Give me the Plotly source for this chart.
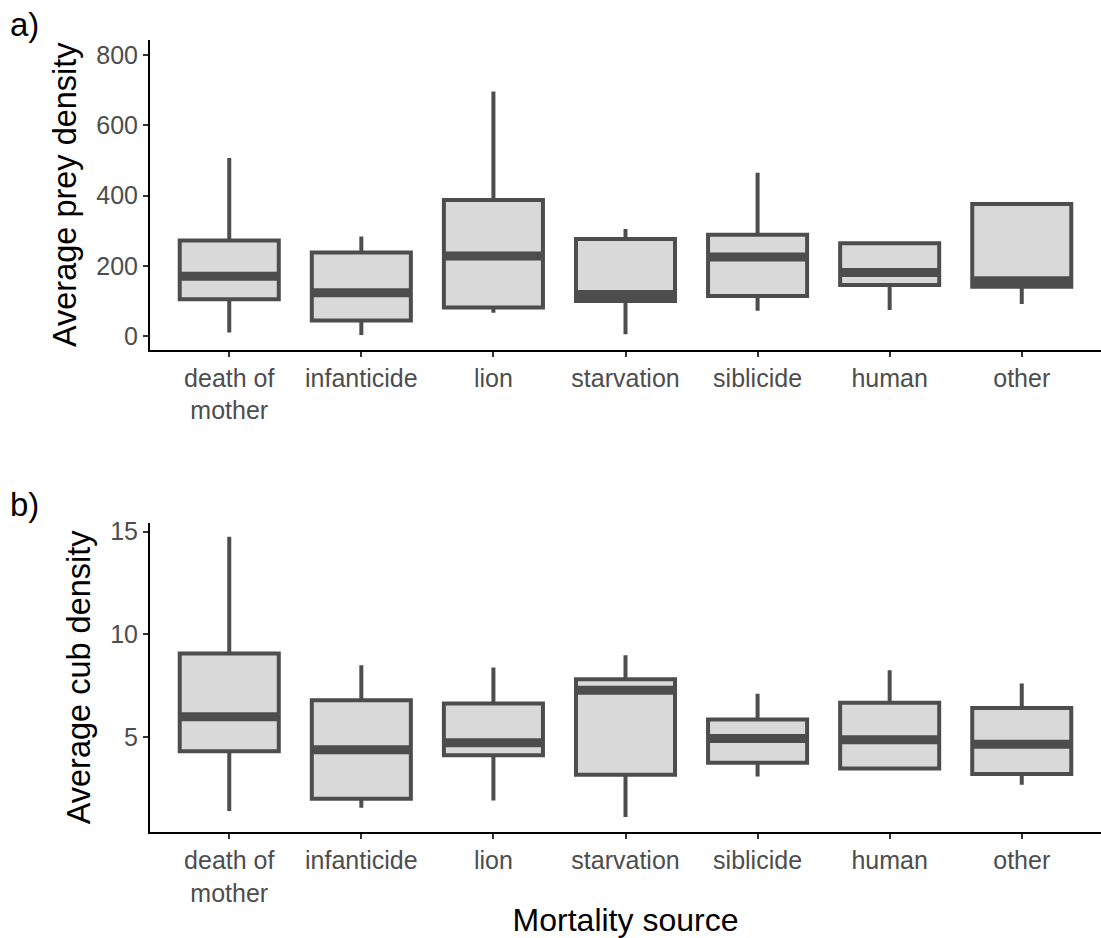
import plotly.graph_objects as go
from plotly.subplots import make_subplots

categories = ["death of mother", "infanticide", "lion", "starvation", "siblicide", "human", "other"]
tick_labels = ["death of<br>mother", "infanticide", "lion", "starvation", "siblicide", "human", "other"]

# Panel a: Average prey density
prey_low = [10, 3, 66, 5, 72, 74, 91]
prey_q1 = [105, 44, 81, 100, 114, 145, 140]
prey_med = [170, 123, 228, 118, 225, 181, 157]
prey_q3 = [272, 238, 387, 276, 288, 264, 376]
prey_high = [507, 283, 696, 305, 465, 264, 376]

# Panel b: Average cub density
cub_low = [1.39, 1.55, 1.91, 1.10, 3.08, 3.46, 2.67]
cub_q1 = [4.30, 1.99, 4.11, 3.16, 3.75, 3.46, 3.20]
cub_med = [5.98, 4.38, 4.72, 7.28, 4.92, 4.87, 4.64]
cub_q3 = [9.07, 6.79, 6.63, 7.81, 5.85, 6.67, 6.41]
cub_high = [14.76, 8.50, 8.38, 8.98, 7.11, 8.25, 7.60]

FONT = "Liberation Sans, Arial, sans-serif"
DARK = "#4D4D4D"
FILL = "#D9D9D9"

W, H = 1101, 938
ML, MR, MT, MB = 150, 0, 40, 106
plot_h = H - MT - MB

def pfrac(ypix):
    return (H - MB - ypix) / plot_h

fig = make_subplots(rows=2, cols=1, shared_xaxes=False)

panels = [
    (1, prey_low, prey_q1, prey_med, prey_q3, prey_high),
    (2, cub_low, cub_q1, cub_med, cub_q3, cub_high),
]
for row, lo, q1, med, q3, hi in panels:
    fig.add_trace(go.Box(
        x=categories, q1=q1, median=med, q3=q3, lowerfence=lo, upperfence=hi,
        fillcolor=FILL, line=dict(color=DARK, width=4), whiskerwidth=0,
        width=0.75, boxpoints=False, showlegend=False, hoverinfo="skip",
    ), row=row, col=1)
    # thick median bar (ggplot-style fattened median); line-ew half-length = 1.4 * size / 2
    fig.add_trace(go.Scatter(
        x=categories, y=med, mode="markers", showlegend=False, hoverinfo="skip",
        marker=dict(symbol="line-ew", size=70.5, color=DARK,
                    line=dict(width=9, color=DARK)),
    ), row=row, col=1)

axis_common = dict(
    showline=True, linecolor="black", linewidth=2, mirror=False,
    ticks="outside", ticklen=5, tickwidth=2, tickcolor="#333333",
    showgrid=False, zeroline=False,
    tickfont=dict(family=FONT, size=25, color=DARK),
)

fig.update_xaxes(**axis_common, type="category", categoryorder="array",
                 categoryarray=categories, tickvals=categories, ticktext=tick_labels,
                 range=[-0.6, 6.6])
fig.update_yaxes(**axis_common)

fig.update_layout(
    xaxis=dict(domain=[0, 1], anchor="y"),
    xaxis2=dict(domain=[0, 1], anchor="y2",
                title=dict(text="Mortality source", font=dict(family=FONT, size=32, color="black"),
                           standoff=18)),
    yaxis=dict(domain=[pfrac(349.5), 1.0], range=[-38.4, 842.7],
               tickvals=[0, 200, 400, 600, 800],
               title=dict(text="Average prey density", font=dict(family=FONT, size=32.5, color="black"),
                          standoff=10)),
    yaxis2=dict(domain=[0, pfrac(522.7)], range=[0.37, 15.44],
                tickvals=[5, 10, 15],
                title=dict(text="Average cub density", font=dict(family=FONT, size=32.5, color="black"),
                           standoff=10)),
    width=W, height=H,
    margin=dict(l=ML, r=MR, t=MT, b=MB, autoexpand=False),
    plot_bgcolor="white", paper_bgcolor="white",
    font=dict(family=FONT),
    annotations=[
        dict(text="a)", xref="paper", yref="paper", x=(8 - ML) / (W - ML - MR), y=pfrac(24),
             xanchor="left", yanchor="middle", showarrow=False,
             font=dict(family=FONT, size=33, color="black")),
        dict(text="b)", xref="paper", yref="paper", x=(8 - ML) / (W - ML - MR), y=pfrac(504),
             xanchor="left", yanchor="middle", showarrow=False,
             font=dict(family=FONT, size=33, color="black")),
    ],
)

fig.write_html(
    "out.html",
    config={"displayModeBar": False},
    post_script="document.body.style.margin='0';document.body.style.overflow='hidden';",
)
